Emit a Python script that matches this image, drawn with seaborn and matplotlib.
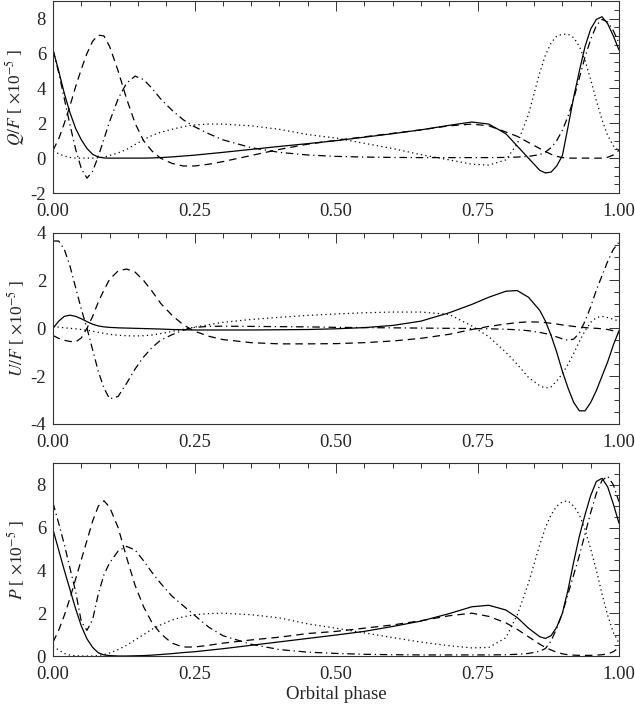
import numpy as np
import pandas as pd
import seaborn as sns
import matplotlib.pyplot as plt
from matplotlib.ticker import MultipleLocator, FormatStrFormatter

# orbital phase grid (denser near the sharp features)
phase = [0.0, 0.01, 0.02, 0.03, 0.04, 0.05, 0.06, 0.07, 0.08, 0.09,
         0.10, 0.115, 0.13, 0.145, 0.16, 0.175, 0.19, 0.21, 0.23, 0.25,
         0.275, 0.30, 0.35, 0.40, 0.45, 0.50, 0.55, 0.60, 0.65, 0.70,
         0.74, 0.77, 0.80, 0.82, 0.84, 0.86, 0.87, 0.88, 0.89, 0.90,
         0.91, 0.92, 0.93, 0.94, 0.95, 0.96, 0.97, 0.98, 0.99, 1.0]

# Q/F  [x1e-5]
q_solid = [6.2, 5.0, 3.7, 2.6, 1.7, 1.05, 0.55, 0.22, 0.06, 0.01,
           0.0, 0.0, 0.0, 0.0, 0.0, 0.01, 0.03, 0.07, 0.12, 0.17,
           0.25, 0.33, 0.5, 0.67, 0.83, 1.0, 1.2, 1.4, 1.62, 1.88,
           2.07, 1.95, 1.4, 0.7, 0.0, -0.7, -0.85, -0.8, -0.45, 0.15,
           1.8, 3.5, 5.0, 6.4, 7.4, 7.95, 8.1, 7.7, 7.0, 6.2]
q_dashed = [0.45, 1.1, 2.0, 3.0, 4.1, 5.1, 6.0, 6.7, 7.05, 7.0,
            6.4, 5.0, 3.4, 2.0, 1.0, 0.4, 0.0, -0.3, -0.45, -0.45,
            -0.35, -0.2, 0.15, 0.5, 0.8, 1.02, 1.22, 1.42, 1.62, 1.85,
            1.95, 1.85, 1.5, 1.25, 0.9, 0.55, 0.38, 0.22, 0.1, 0.03,
            0.0, 0.0, 0.0, 0.0, 0.0, 0.0, 0.0, 0.05, 0.18, 0.45]
q_dotted = [0.4, 0.25, 0.12, 0.04, 0.0, 0.0, 0.0, 0.0, 0.02, 0.06,
            0.15, 0.3, 0.5, 0.78, 1.05, 1.3, 1.48, 1.65, 1.8, 1.9,
            1.95, 1.95, 1.85, 1.65, 1.35, 1.15, 0.85, 0.55, 0.2, -0.1,
            -0.35, -0.4, -0.1, 0.8, 2.5, 4.9, 5.9, 6.6, 7.0, 7.1,
            7.1, 6.9, 6.4, 5.6, 4.5, 3.3, 2.2, 1.3, 0.7, 0.4]
q_dashdot = [6.2, 4.9, 3.4, 1.9, 0.5, -0.6, -1.15, -0.75, 0.1, 1.1,
             2.1, 3.4, 4.3, 4.7, 4.5, 4.0, 3.4, 2.75, 2.2, 1.8,
             1.4, 1.05, 0.6, 0.33, 0.18, 0.1, 0.06, 0.04, 0.03, 0.03,
             0.03, 0.03, 0.04, 0.06, 0.1, 0.2, 0.35, 0.6, 1.0, 1.6,
             2.4, 3.4, 4.6, 5.8, 6.8, 7.6, 7.95, 7.8, 7.3, 6.6]

# U/F  [x1e-5]
u_solid = [0.0, 0.3, 0.5, 0.55, 0.5, 0.4, 0.28, 0.17, 0.1, 0.06,
           0.04, 0.02, 0.01, 0.0, -0.01, -0.02, -0.03, -0.05, -0.06, -0.07,
           -0.07, -0.07, -0.07, -0.06, -0.05, -0.02, 0.03, 0.12, 0.3, 0.65,
           1.0, 1.3, 1.55, 1.58, 1.3, 0.75, 0.3, -0.3, -1.0, -1.8,
           -2.5, -3.1, -3.45, -3.45, -3.1, -2.6, -2.0, -1.4, -0.7, -0.1]
u_dashed = [-0.3, -0.42, -0.5, -0.55, -0.57, -0.4, 0.0, 0.5, 1.1, 1.6,
            2.05, 2.4, 2.48, 2.35, 2.0, 1.55, 1.05, 0.55, 0.15, -0.12,
            -0.33, -0.47, -0.6, -0.65, -0.65, -0.64, -0.6, -0.53, -0.42, -0.25,
            -0.05, 0.08, 0.18, 0.24, 0.27, 0.26, 0.24, 0.21, 0.18, 0.14,
            0.11, 0.08, 0.05, 0.03, 0.01, 0.0, -0.02, -0.05, -0.1, -0.2]
u_dotted = [0.08, 0.05, 0.02, 0.0, -0.02, -0.05, -0.08, -0.12, -0.17, -0.21,
            -0.25, -0.29, -0.31, -0.32, -0.31, -0.28, -0.22, -0.13, -0.04, 0.05,
            0.15, 0.25, 0.37, 0.46, 0.54, 0.6, 0.65, 0.68, 0.68, 0.58,
            0.1, -0.35, -1.0, -1.5, -2.05, -2.4, -2.5, -2.45, -2.2, -1.9,
            -1.5, -1.05, -0.55, -0.1, 0.25, 0.45, 0.5, 0.45, 0.38, 0.3]
u_dashdot = [3.65, 3.65, 3.3, 2.6, 1.7, 0.8, 0.0, -0.9, -1.8, -2.5,
             -2.95, -2.85, -2.3, -1.7, -1.2, -0.8, -0.5, -0.27, -0.08, 0.04,
             0.08, 0.09, 0.08, 0.07, 0.06, 0.04, 0.03, 0.02, 0.01, 0.0,
             -0.01, -0.02, -0.04, -0.06, -0.1, -0.17, -0.22, -0.28, -0.36, -0.44,
             -0.5, -0.45, -0.2, 0.3, 0.9, 1.6, 2.2, 2.8, 3.3, 3.6]

# P  [x1e-5]
p_solid = [5.9, 4.95, 4.0, 3.1, 2.2, 1.4, 0.8, 0.4, 0.15, 0.05,
           0.02, 0.0, 0.0, 0.01, 0.02, 0.04, 0.07, 0.11, 0.16, 0.2,
           0.27, 0.34, 0.5, 0.66, 0.82, 0.98, 1.15, 1.38, 1.63, 1.98,
           2.3, 2.37, 2.15, 1.8, 1.3, 0.9, 0.82, 0.95, 1.35, 2.0,
           3.1, 4.4, 5.6, 6.6, 7.5, 8.15, 8.3, 7.9, 7.1, 6.2]
p_dashed = [0.65, 1.2, 1.9, 2.7, 3.6, 4.5, 5.4, 6.3, 7.0, 7.25,
            6.95, 6.0, 4.6, 3.3, 2.3, 1.55, 1.05, 0.6, 0.42, 0.42,
            0.5, 0.6, 0.75, 0.88, 1.05, 1.15, 1.3, 1.45, 1.65, 1.88,
            2.0, 1.85, 1.55, 1.25, 0.9, 0.55, 0.4, 0.28, 0.18, 0.1,
            0.06, 0.04, 0.03, 0.03, 0.03, 0.04, 0.06, 0.1, 0.2, 0.4]
p_dotted = [0.45, 0.28, 0.12, 0.04, 0.01, 0.0, 0.0, 0.0, 0.02, 0.07,
            0.14, 0.3, 0.5, 0.75, 1.0, 1.25, 1.45, 1.68, 1.83, 1.93,
            1.98, 2.0, 1.93, 1.78, 1.5, 1.3, 1.08, 0.86, 0.65, 0.48,
            0.38, 0.4, 0.85, 1.9, 3.4, 5.2, 6.0, 6.6, 7.0, 7.2,
            7.25, 7.0, 6.6, 5.9, 5.0, 4.0, 2.9, 1.9, 1.1, 0.6]
p_dashdot = [7.15, 6.2, 5.2, 4.1, 3.0, 1.6, 1.2, 1.7, 2.9, 3.8,
             4.35, 4.9, 5.12, 4.95, 4.45, 3.9, 3.4, 2.8, 2.35, 1.9,
             1.35, 0.95, 0.55, 0.3, 0.18, 0.12, 0.08, 0.06, 0.05, 0.05,
             0.05, 0.05, 0.06, 0.08, 0.12, 0.22, 0.35, 0.7, 1.3, 2.0,
             2.9, 3.8, 4.7, 5.7, 6.7, 7.6, 8.2, 8.4, 8.0, 7.2]

models = ['solid', 'dashed', 'dotted', 'dashdot']
line_dashes = {'solid': '', 'dashed': (6, 4), 'dotted': (1, 2.6),
               'dashdot': (6, 3, 1, 3)}


def long_form(curves):
    frames = []
    for name, vals in zip(models, curves):
        frames.append(pd.DataFrame({'phase': phase, 'value': vals, 'model': name}))
    return pd.concat(frames, ignore_index=True)


panels = [
    (long_form([q_solid, q_dashed, q_dotted, q_dashdot]),
     r'$Q/F$ [ $\times$10$^{-5}$ ]', (-2, 9), [-2, 0, 2, 4, 6, 8]),
    (long_form([u_solid, u_dashed, u_dotted, u_dashdot]),
     r'$U/F$ [ $\times$10$^{-5}$ ]', (-4, 4), [-4, -2, 0, 2, 4]),
    (long_form([p_solid, p_dashed, p_dotted, p_dashdot]),
     r'$P$ [ $\times$10$^{-5}$ ]', (0, 9), [0, 2, 4, 6, 8]),
]

sns.set_style('white')
plt.rcParams['font.family'] = ['Liberation Serif', 'DejaVu Serif']
plt.rcParams['mathtext.fontset'] = 'stix'
plt.rcParams['axes.unicode_minus'] = False

fig = plt.figure(figsize=(6.35, 7.05), dpi=100)
boxes = [(0.0835, 0.7262, 0.8913, 0.2723),
         (0.0835, 0.3986, 0.8913, 0.2714),
         (0.0835, 0.0695, 0.8913, 0.2733)]

for (df, ylab, ylim, yticks), box in zip(panels, boxes):
    ax = fig.add_axes(box)
    sns.lineplot(data=df, x='phase', y='value', style='model', dashes=line_dashes,
                 color='k', lw=0.9, legend=False, errorbar=None, sort=False, ax=ax)
    ax.set_xlim(0, 1)
    ax.set_ylim(*ylim)
    ax.set_xticks([0, 0.25, 0.5, 0.75, 1.0])
    ax.xaxis.set_major_formatter(FormatStrFormatter('%.2f'))
    ax.xaxis.set_minor_locator(MultipleLocator(0.05))
    ax.set_yticks(yticks)
    ax.yaxis.set_minor_locator(MultipleLocator(0.5))
    ax.tick_params(which='both', direction='in', top=True, right=True,
                   labelsize=13.5, width=0.7, color='#333333')
    ax.tick_params(axis='x', which='both', pad=7)
    ax.tick_params(axis='y', which='both', pad=5)
    ax.tick_params(which='major', length=7)
    ax.tick_params(which='minor', length=3.5)
    for sp in ax.spines.values():
        sp.set_linewidth(0.8)
        sp.set_color('#333333')
    ax.set_ylabel(ylab, fontsize=12.5)
    ax.yaxis.set_label_coords(-0.046, 0.5)
    ax.set_xlabel('')

ax.set_xlabel('Orbital phase', fontsize=13.5, labelpad=2)

fig.savefig('out.png', dpi=100)
